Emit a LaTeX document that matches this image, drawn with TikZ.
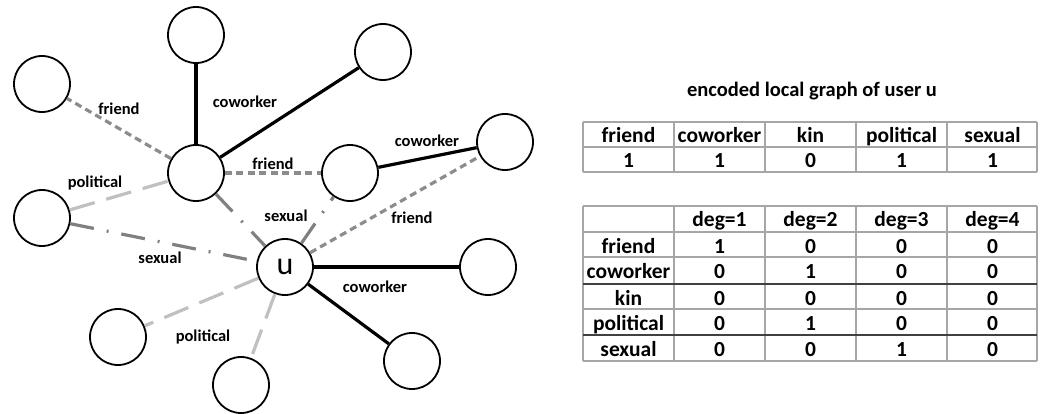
\documentclass[tikz,border=0pt]{standalone}
\usepackage{fontspec}
\setmainfont{Carlito}
\definecolor{friendgray}{HTML}{8C8C8C}
\definecolor{polgray}{HTML}{C0C0C0}
\definecolor{sexgray}{HTML}{808080}
\definecolor{tabgray}{HTML}{A6A6A6}
\definecolor{tabdark}{HTML}{404040}
\begin{document}
\begin{tikzpicture}[x=1pt,y=-1pt,
  vert/.style={circle,draw,line width=1.8pt,minimum size=56pt,inner sep=0pt},
  cow/.style={line width=3.2pt,draw=black},
  fri/.style={line width=3.2pt,draw=friendgray,dash pattern=on 7pt off 4.5pt},
  pol/.style={line width=3.2pt,draw=polgray,dash pattern=on 26pt off 12pt},
  sex/.style={line width=3.2pt,draw=sexgray,dash pattern=on 24pt off 13pt on 2pt off 13pt},
  elab/.style={font=\bfseries\fontsize{16.5}{18}\selectfont,inner sep=1pt},
  cell/.style={font=\bfseries\fontsize{21.5}{24}\selectfont,inner sep=0pt,anchor=base},
  tline/.style={line width=1.4pt,draw=tabgray},
  tdark/.style={line width=1.4pt,draw=tabdark},
]
\useasboundingbox (0,0) rectangle (1044,414);
% graph nodes
\node[vert] (t) at (196,35) {};
\node[vert] (lt) at (42,84) {};
\node[vert] (a) at (196,173) {};
\node[vert] (tr) at (383,52) {};
\node[vert] (b) at (350,173) {};
\node[vert] (c) at (505,142) {};
\node[vert] (d) at (42,218) {};
\node[vert,font=\fontsize{32}{34}\selectfont] (u) at (285,267) {u};
\node[vert] (e) at (118,337) {};
\node[vert] (f) at (241,385) {};
\node[vert] (g) at (488,267) {};
\node[vert] (h) at (412,361) {};
% edges
\draw[cow] (a) -- (t);
\draw[cow] (a) -- (tr);
\draw[fri] (a) -- (lt);
\draw[fri] (a) -- (b);
\draw[cow] (b) -- (c);
\draw[fri] (u) -- (c);
\draw[sex] (u) -- (b);
\draw[sex] (a) -- (u);
\draw[pol] (d) -- (a);
\draw[sex] (d) -- (u);
\draw[pol] (u) -- (e);
\draw[pol] (u) -- (f);
\draw[cow] (u) -- (g);
\draw[cow] (u) -- (h);
% edge labels
\node[elab] (l1) at (245,102) {coworker};
\node[elab] (l2) at (119,109) {friend};
\node[elab] (l3) at (273,164) {friend};
\node[elab] (l4) at (95,183) {political};
\node[elab] (l5) at (427,141) {coworker};
\node[elab] (l6) at (286,216) {sexual};
\node[elab] (l7) at (412,218) {friend};
\node[elab] (l8) at (160,258) {sexual};
\node[elab] (l9) at (203,337) {political};
\node[elab] (l10) at (375,287) {coworker};
% title
\node[font=\bfseries\fontsize{20.5}{24}\selectfont,inner sep=0pt,anchor=base] (title) at (812,97) {encoded local graph of user u};
% table 1 grid
\foreach \yy in {122,147,172} \draw[tline] (583,\yy) -- (1037,\yy);
\foreach \xx in {583,674,765,856,947,1037} \draw[tline] (\xx,122) -- (\xx,172);
\foreach \lab [count=\i] in {friend,coworker,kin,political,sexual}
  \node[cell] (ha\i) at (537.5+91*\i,142.5) {\lab};
\foreach \val [count=\i] in {1,1,0,1,1}
  \node[cell] (va\i) at (537.5+91*\i,167.5) {\val};
% table 2 grid
\foreach \yy in {206,232,257,309,361} \draw[tline] (583,\yy) -- (1037,\yy);
\foreach \xx in {583,674,765,856,947,1037} \draw[tline] (\xx,206) -- (\xx,361);
\draw[tdark] (583,284) -- (1037,284);
\draw[tdark] (583,335) -- (1037,335);
\foreach \lab [count=\i] in {deg=1,deg=2,deg=3,deg=4}
  \node[cell] (hb\i) at (628.5+91*\i,226.5) {\lab};
\foreach \lab/\ya/\yb/\yc/\yd [count=\r] in {friend/1/0/0/0,coworker/0/1/0/0,kin/0/0/0/0,political/0/1/0/0,sexual/0/0/1/0}{
  \pgfmathsetmacro{\base}{{232,257,284,309,335}[\r-1]+21}
  \node[cell] (rl\r) at (628.5,\base) {\lab};
  \node[cell] (c\r a) at (719.5,\base) {\ya};
  \node[cell] (c\r b) at (810.5,\base) {\yb};
  \node[cell] (c\r c) at (901.5,\base) {\yc};
  \node[cell] (c\r d) at (992.5,\base) {\yd};
}
\end{tikzpicture}
\end{document}
